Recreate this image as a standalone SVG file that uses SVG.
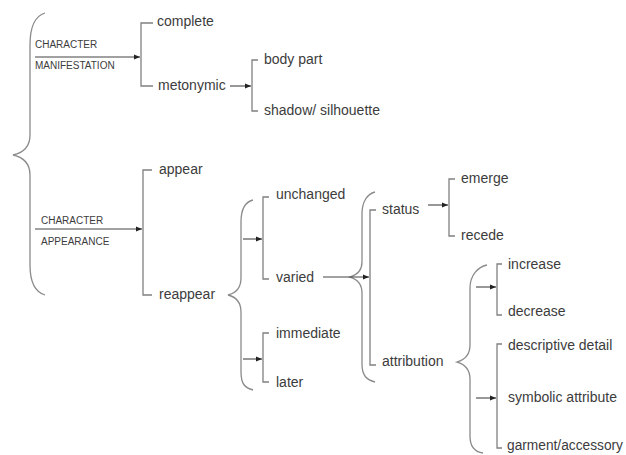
<svg xmlns="http://www.w3.org/2000/svg" width="626" height="455" viewBox="0 0 626 455">
  <defs>
    <marker id="arr" viewBox="0 0 6 6" refX="6" refY="3" markerWidth="6" markerHeight="6" markerUnits="userSpaceOnUse" orient="auto">
      <path d="M0,0.6 L6,3 L0,5.4 Z" fill="#222"/>
    </marker>
  </defs>
  <style>
    .ln { fill: none; stroke: #808080; stroke-width: 1.3; }
    .ar { fill: none; stroke: #444; stroke-width: 1.1; marker-end: url(#arr); }
    .br { fill: none; stroke: #8a8a8a; stroke-width: 1.3; }
    .t { font-family: "Liberation Sans", Arial, sans-serif; font-size: 14px; fill: #3c3c3c; }
    .s { font-family: "Liberation Sans", Arial, sans-serif; font-size: 10px; fill: #3c3c3c; }
  </style>
  <rect width="626" height="455" fill="#ffffff"/>

  <!-- braces -->
  <g id="braces">
    <path class="br" d="M45,13 C35,16 30,28 30,45 L30,135 C30,148 22,153 13,155 C22,157 30,162 30,175 L30,265 C30,282 35,292 45,295"/>
    <path class="br" d="M253,200 C245,202 241,210 241,222 L241,278 C241,288 236,293 228,295 C236,297 241,302 241,312 L241,372 C241,384 245,388 253,390"/>
    <path class="br" d="M375,192 C367,194 362,202 362,214 L362,262 C362,271 357,275 350,277 C357,279 362,284 362,293 L362,364 C362,376 367,380 375,382"/>
    <path class="br" d="M487,265 C478,267 470,275 470,288 L470,345 C470,355 464,360 457,362 C464,364 470,369 470,379 L470,436 C470,447 475,452 483,453"/>
  </g>

  <!-- connectors -->
  <g id="connectors">
    <path class="ar" d="M35,57 L140,57"/>
    <path class="ar" d="M35,229 L142,229"/>
    <path class="ar" d="M230,86 L251,86"/>
    <path class="ar" d="M243,239 L262,239"/>
    <path class="ar" d="M243,359 L262,359"/>
    <path class="ar" d="M323,277 L369,277"/>
    <path class="ar" d="M428,205 L448,205"/>
    <path class="ar" d="M476,287 L496,287"/>
    <path class="ar" d="M476,398 L496,398"/>
  </g>

  <!-- root labels -->
  <g id="manifestation">
    <text class="s" x="35" y="48">CHARACTER</text>
    <text class="s" x="35" y="69">MANIFESTATION</text>
  </g>
  <g id="appearance">
    <text class="s" x="41" y="224">CHARACTER</text>
    <text class="s" x="41" y="245">APPEARANCE</text>
  </g>

  <!-- bracket: complete / metonymic -->
  <g id="manif-bracket">
    <path class="ln" d="M153,23 L141,23 L141,86 L153,86"/>
    <text class="t" x="157" y="26">complete</text>
    <text class="t" x="158" y="90">metonymic</text>
  </g>

  <!-- bracket: body part / shadow -->
  <g id="metonymic-bracket">
    <path class="ln" d="M258,60 L252,60 L252,111 L258,111"/>
    <text class="t" x="264" y="64">body part</text>
    <text class="t" x="264" y="115">shadow/ silhouette</text>
  </g>

  <!-- bracket: appear / reappear -->
  <g id="appear-bracket">
    <path class="ln" d="M152,170 L143,170 L143,295 L152,295"/>
    <text class="t" x="159" y="174">appear</text>
    <text class="t" x="159" y="299">reappear</text>
  </g>

  <!-- bracket: unchanged / varied -->
  <g id="change-bracket">
    <path class="ln" d="M269,197 L263,197 L263,279 L269,279"/>
    <text class="t" x="276" y="199">unchanged</text>
    <text class="t" x="276" y="282">varied</text>
  </g>

  <!-- bracket: immediate / later -->
  <g id="timing-bracket">
    <path class="ln" d="M269,333 L263,333 L263,382 L269,382"/>
    <text class="t" x="276" y="338">immediate</text>
    <text class="t" x="276" y="387">later</text>
  </g>

  <!-- bracket: status / attribution -->
  <g id="variation-bracket">
    <path class="ln" d="M376,210 L370,210 L370,365 L376,365"/>
    <text class="t" x="382" y="214">status</text>
    <text class="t" x="382" y="366">attribution</text>
  </g>

  <!-- bracket: emerge / recede -->
  <g id="status-bracket">
    <path class="ln" d="M455,179 L449,179 L449,236 L455,236"/>
    <text class="t" x="461" y="183">emerge</text>
    <text class="t" x="461" y="240">recede</text>
  </g>

  <!-- bracket: increase / decrease -->
  <g id="degree-bracket">
    <path class="ln" d="M502,264 L497,264 L497,315 L502,315"/>
    <text class="t" x="508" y="269">increase</text>
    <text class="t" x="508" y="316">decrease</text>
  </g>

  <!-- bracket: attribute kinds -->
  <g id="kind-bracket">
    <path class="ln" d="M502,344 L497,344 L497,448 L502,448"/>
    <text class="t" x="508" y="350">descriptive detail</text>
    <text class="t" x="508" y="402">symbolic attribute</text>
    <text class="t" x="507" y="450" textLength="116" lengthAdjust="spacingAndGlyphs">garment/accessory</text>
  </g>
</svg>
